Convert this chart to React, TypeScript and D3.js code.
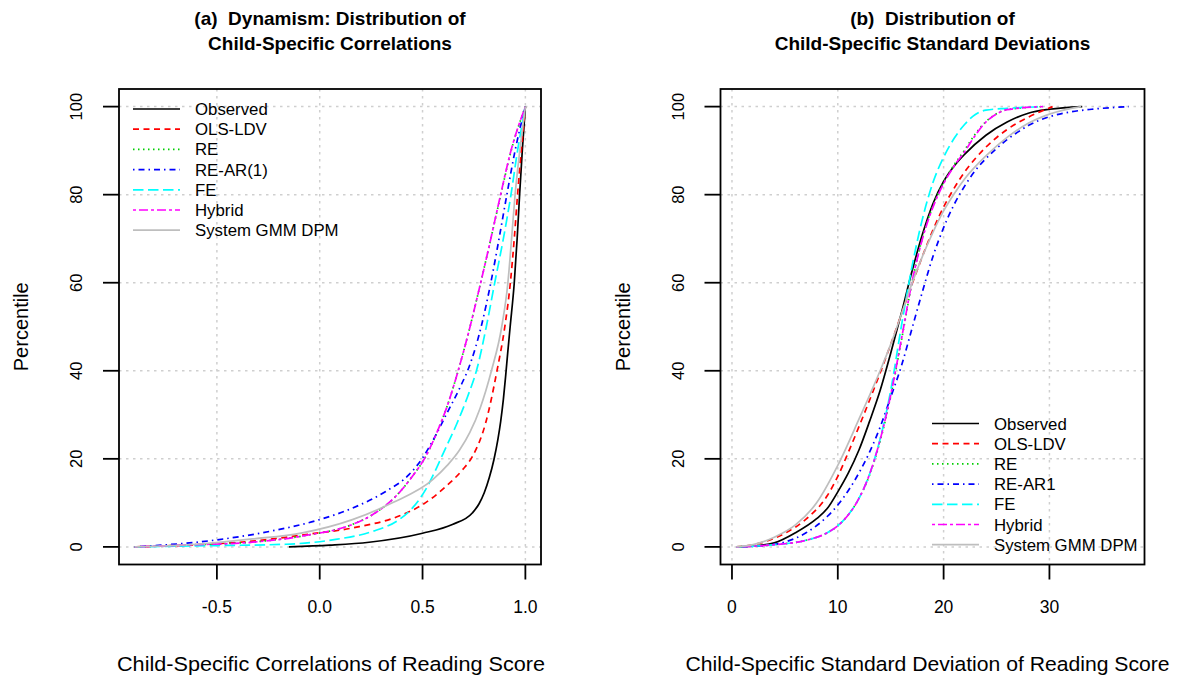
import React from "react";
import * as d3 from "d3";

// ---------- Panel (a): child-specific correlations (x) vs percentile (p) ----------
const corrObserved: [number, number][] = [
  [-0.15, 0], [0.05, 0.4], [0.24, 1.06], [0.5, 3.1], [0.645, 5.1], [0.742, 7.7],
  [0.775, 9.8], [0.8, 12.3], [0.825, 15.8], [0.847, 19.8], [0.866, 24.3], [0.88, 28.5],
  [0.893, 33.5], [0.904, 38.8], [0.914, 44], [0.926, 50], [0.946, 60], [0.96, 70],
  [0.972, 80], [0.985, 90], [1.0, 100],
];
const corrOlsLdv: [number, number][] = [
  [-0.9, 0], [-0.6, 0.5], [-0.327, 1.3], [-0.068, 2.8], [0.159, 4.3], [0.402, 7.3],
  [0.5, 9.6], [0.613, 13.7], [0.694, 17.5], [0.742, 20.5], [0.806, 28], [0.862, 40],
  [0.9, 50], [0.927, 60], [0.946, 70], [0.962, 80], [0.98, 90], [1.0, 100],
];
const corrRe: [number, number][] = [
  [-0.9, 0], [-0.6, 0.5], [-0.327, 1.1], [-0.068, 2.6], [0.159, 5.1], [0.256, 7.3],
  [0.37, 11.5], [0.45, 16], [0.515, 20.5], [0.57, 26], [0.62, 32], [0.67, 39.5],
  [0.72, 48], [0.77, 57.5], [0.82, 67.5], [0.871, 78], [0.931, 90], [1.0, 100],
];
const corrReAr1: [number, number][] = [
  [-0.9, 0], [-0.489, 1.66], [-0.246, 3.5], [0.0, 6.2], [0.159, 8.8], [0.321, 12.6],
  [0.434, 16.4], [0.5, 20.2], [0.56, 25], [0.62, 30.5], [0.68, 36], [0.735, 42],
  [0.785, 50], [0.832, 60], [0.872, 70], [0.91, 80], [0.95, 90], [1.0, 100],
];
const corrFe: [number, number][] = [
  [-0.9, 0], [-0.5, 0.3], [-0.165, 0.6], [0.078, 1.7], [0.256, 3.5], [0.386, 6.2],
  [0.45, 8.8], [0.515, 13], [0.564, 17.5], [0.6, 21.2], [0.665, 27.8], [0.718, 34],
  [0.765, 40.5], [0.81, 50], [0.851, 60], [0.893, 70], [0.93, 80], [0.962, 90], [1.0, 100],
];
const corrHybrid: [number, number][] = [
  [-0.9, 0], [-0.6, 0.5], [-0.327, 1.06], [-0.068, 2.6], [0.159, 5.1], [0.256, 7.3],
  [0.37, 11.5], [0.45, 16], [0.515, 20.5], [0.57, 26], [0.62, 32], [0.67, 39.5],
  [0.72, 48], [0.77, 57.5], [0.82, 67.5], [0.87, 78], [0.93, 90], [1.0, 100],
];
const corrGmm: [number, number][] = [
  [-0.9, 0], [-0.6, 0.6], [-0.327, 1.8], [-0.084, 3.2], [0.159, 6.2], [0.353, 10],
  [0.548, 15.2], [0.62, 18.5], [0.68, 22], [0.73, 26], [0.78, 31.5], [0.835, 40],
  [0.885, 50], [0.915, 60], [0.933, 70], [0.95, 80], [0.973, 90], [1.0, 100],
];

// ---------- Panel (b): child-specific standard deviations ----------
const sdObserved: [number, number][] = [
  [0.4, 0], [2, 0.2], [4, 0.9], [6, 3.2], [8, 6.4], [9, 8.7], [10, 12.5], [11, 16.8],
  [12, 22], [13, 28.5], [14, 35.5], [15, 44], [16, 53], [17, 62.5], [18, 71], [19, 78],
  [20, 83], [21, 86.5], [22, 89.2], [24, 93.5], [26, 96.5], [28, 98.5], [30, 99.4], [33.1, 100],
];
const sdOlsLdv: [number, number][] = [
  [0.4, 0], [2, 0.5], [3, 1.1], [5, 3.1], [7, 6.3], [9, 11.6], [10, 16], [11, 21.5],
  [12, 27.3], [13, 33.3], [14, 39.5], [15, 46], [16, 52.8], [17, 59.6], [18, 66], [19, 72],
  [20, 77.2], [21, 81.5], [22, 85.2], [23, 88.2], [24, 90.8], [26, 94.8], [28, 97.6], [30.3, 100],
];
const sdRe: [number, number][] = [
  [0.4, 0], [4, 0.5], [7, 1.5], [9, 3.2], [10, 4.8], [11, 7.3], [12, 11], [13, 16.3],
  [14, 24], [15, 34.2], [16, 46.7], [17, 59.8], [18, 70.2], [19, 77.5], [20, 82.8],
  [21, 86.8], [22, 90.2], [23, 93.8], [24, 96.6], [25, 98.4], [26, 99.3], [29.4, 100],
];
const sdReAr1: [number, number][] = [
  [0.4, 0], [3, 0.3], [5, 1.1], [7, 3.2], [9, 6.9], [10, 9.5], [11, 12.8], [12, 16.8],
  [13, 21.5], [14, 27.2], [15, 34], [16, 41], [17, 49.5], [18, 58], [19, 66], [20, 72.5],
  [21, 77.8], [22, 82], [23, 85.5], [24, 88.2], [25, 90.5], [26, 92.5], [27, 94.2],
  [28, 95.7], [30, 97.7], [32, 98.8], [34, 99.4], [37.5, 100],
];
const sdFe: [number, number][] = [
  [0.4, 0], [4, 0.5], [7, 1.5], [9, 3.2], [10, 4.8], [11, 7.3], [12, 11], [13, 16.5],
  [14, 24.5], [15, 35.5], [16, 50], [17, 63.5], [18, 74.5], [19, 82.8], [20, 88.5],
  [21, 92.8], [22, 96], [23, 98.2], [24, 99.2], [26, 99.6], [29.4, 100],
];
const sdHybrid: [number, number][] = [
  [0.4, 0], [4, 0.5], [7, 1.5], [9, 3.2], [10, 4.8], [11, 7.3], [12, 11], [13, 16.5],
  [14, 24.3], [15, 34.5], [16, 47], [17, 60], [18, 70], [19, 77.2], [20, 82.5],
  [21, 86.5], [22, 89.8], [23, 93.5], [24, 96.5], [25, 98.3], [26, 99.3], [29.4, 100],
];
const sdGmm: [number, number][] = [
  [0.4, 0], [2, 0.5], [4, 2.2], [6, 5], [8, 10], [10, 18.5], [12, 29], [14, 40], [15, 46],
  [16, 52.8], [17, 59.8], [18, 66], [19, 71.5], [20, 76.3], [21, 80.2], [22, 83.6],
  [24, 88.8], [26, 93], [28, 96.2], [30, 98.3], [33, 100],
];

// ---------- Labels / ticks ----------
const legendLabelsA = ["Observed", "OLS-LDV", "RE", "RE-AR(1)", "FE", "Hybrid", "System GMM DPM"];
const legendLabelsB = ["Observed", "OLS-LDV", "RE", "RE-AR1", "FE", "Hybrid", "System GMM DPM"];
const xTicksA = [-0.5, 0, 0.5, 1.0];
const xTickLabelsA = ["-0.5", "0.0", "0.5", "1.0"];
const xTicksB = [0, 10, 20, 30];
const xTickLabelsB = ["0", "10", "20", "30"];
const yTicks = [0, 20, 40, 60, 80, 100];
const titleA = ["(a)  Dynamism: Distribution of", "Child-Specific Correlations"];
const titleB = ["(b)  Distribution of", "Child-Specific Standard Deviations"];
const xTitleA = "Child-Specific Correlations of Reading Score";
const xTitleB = "Child-Specific Standard Deviation of Reading Score";
const yTitle = "Percentile";

const styles = [
  { color: "#000000", dash: null as string | null },
  { color: "#FF0000", dash: "6,4.5" },
  { color: "#00CD00", dash: "1.5,3.5" },
  { color: "#0000FF", dash: "1.5,4,6,4" },
  { color: "#00FFFF", dash: "10.5,4.5" },
  { color: "#FF00FF", dash: "3,3,9,3" },
  { color: "#BEBEBE", dash: null as string | null },
];

const FONT = "'Liberation Sans', Arial, Helvetica, sans-serif";
const TOP = 89;
const BOTTOM = 564.5;

type PanelProps = {
  left: number;
  right: number;
  series: [number, number][][];
  xTicks: number[];
  xTickLabels: string[];
  legendLabels: string[];
  legendX: number;
  legendY: number;
  title: string[];
  xTitle: string;
  xTitleX: number;
  xTitleLen: number;
};

function Panel(props: PanelProps) {
  const { left, right, series, xTicks, xTickLabels, legendLabels, legendX, legendY, title, xTitle, xTitleX, xTitleLen } = props;
  const all = series.flat();
  const [xmin, xmax] = d3.extent(all, (d) => d[0]) as [number, number];
  const pad = (xmax - xmin) * 0.04;
  const x = d3.scaleLinear().domain([xmin - pad, xmax + pad]).range([left, right]);
  const y = d3.scaleLinear().domain([-4, 104]).range([BOTTOM, TOP]);
  const line = d3
    .line<[number, number]>()
    .x((d) => x(d[0]))
    .y((d) => y(d[1]))
    .curve(d3.curveMonotoneX);
  const cx = (left + right) / 2;
  const cy = (TOP + BOTTOM) / 2;
  return (
    <g>
      {xTicks.map((t) => (
        <line key={"gx" + t} x1={x(t)} x2={x(t)} y1={TOP} y2={BOTTOM}
          stroke="#cfcfcf" strokeWidth={1.5} strokeDasharray="2.5,4.5" />
      ))}
      {yTicks.map((t) => (
        <line key={"gy" + t} x1={left} x2={right} y1={y(t)} y2={y(t)}
          stroke="#cfcfcf" strokeWidth={1.5} strokeDasharray="2.5,4.5" />
      ))}
      {series.map((s, i) => (
        <path key={"s" + i} d={line(s) || ""} fill="none" stroke={styles[i].color}
          strokeWidth={1.7} strokeDasharray={styles[i].dash || undefined} />
      ))}
      <rect x={left} y={TOP} width={right - left} height={BOTTOM - TOP} fill="none" stroke="#000" strokeWidth={1.8} />
      {xTicks.map((t, i) => (
        <g key={"xt" + t}>
          <line x1={x(t)} x2={x(t)} y1={BOTTOM} y2={BOTTOM + 15} stroke="#000" strokeWidth={1.8} />
          <text x={x(t)} y={613} textAnchor="middle" fontSize={17.5} fontFamily={FONT}>{xTickLabels[i]}</text>
        </g>
      ))}
      {yTicks.map((t) => (
        <g key={"yt" + t}>
          <line x1={left - 16} x2={left} y1={y(t)} y2={y(t)} stroke="#000" strokeWidth={1.8} />
          <text transform={`translate(${left - 37},${y(t)}) rotate(-90)`} textAnchor="middle"
            fontSize={16.5} fontFamily={FONT}>{String(t)}</text>
        </g>
      ))}
      <text x={xTitleX} y={671} textAnchor="middle" fontSize={20.5} fontFamily={FONT}
        textLength={xTitleLen} lengthAdjust="spacingAndGlyphs">{xTitle}</text>
      <text transform={`translate(${left - 91},${cy}) rotate(-90)`} textAnchor="middle"
        fontSize={20} fontFamily={FONT}>{yTitle}</text>
      {title.map((t, i) => (
        <text key={"t" + i} x={cx} y={25 + i * 24.5} textAnchor="middle" fontSize={19}
          fontWeight="bold" fontFamily={FONT} style={{ whiteSpace: "pre" }}>{t}</text>
      ))}
      {legendLabels.map((lab, i) => {
        const ly = legendY + i * 20.2;
        return (
          <g key={"lg" + i}>
            <line x1={legendX} x2={legendX + 47} y1={ly} y2={ly} stroke={styles[i].color}
              strokeWidth={1.7} strokeDasharray={styles[i].dash || undefined} />
            <text x={legendX + 62} y={ly + 6} fontSize={16.8} fontFamily={FONT}>{lab}</text>
          </g>
        );
      })}
    </g>
  );
}

export default function App() {
  return (
    <svg width={1183} height={676} style={{ position: "absolute", left: 0, top: 0, background: "#fff" }}>
      <rect x={0} y={0} width={1183} height={676} fill="#fff" />
      <Panel left={119} right={541}
        series={[corrObserved, corrOlsLdv, corrRe, corrReAr1, corrFe, corrHybrid, corrGmm]}
        xTicks={xTicksA} xTickLabels={xTickLabelsA} legendLabels={legendLabelsA}
        legendX={133} legendY={109} title={titleA} xTitle={xTitleA} xTitleX={331} xTitleLen={428} />
      <Panel left={720.5} right={1144.5}
        series={[sdObserved, sdOlsLdv, sdRe, sdReAr1, sdFe, sdHybrid, sdGmm]}
        xTicks={xTicksB} xTickLabels={xTickLabelsB} legendLabels={legendLabelsB}
        legendX={932} legendY={423.5} title={titleB} xTitle={xTitleB} xTitleX={927.5} xTitleLen={484} />
    </svg>
  );
}
